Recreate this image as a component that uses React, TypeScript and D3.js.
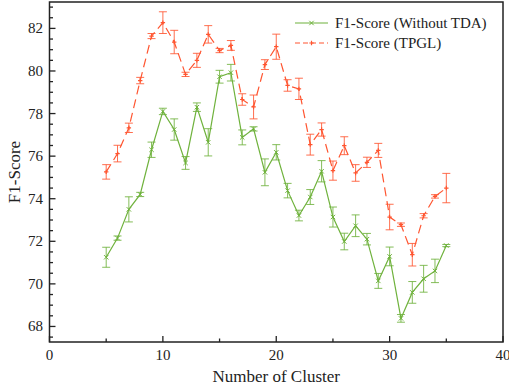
import * as d3 from "d3";

const clusters = [5, 6, 7, 8, 9, 10, 11, 12, 13, 14, 15, 16, 17, 18, 19, 20, 21, 22, 23, 24, 25, 26, 27, 28, 29, 30, 31, 32, 33, 34, 35];

const withoutTda = [71.25, 72.15, 73.5, 74.2, 76.3, 78.1, 77.25, 75.68, 78.3, 76.65, 79.73, 79.92, 76.88, 77.28, 75.24, 76.18, 74.38, 73.21, 74.08, 75.29, 73.14, 71.99, 72.73, 72.1, 70.14, 71.29, 68.38, 69.6, 70.24, 70.61, 71.8];
const withoutTdaErr = [0.47, 0.1, 0.59, 0.1, 0.36, 0.15, 0.5, 0.3, 0.2, 0.64, 0.3, 0.39, 0.35, 0.1, 0.63, 0.36, 0.34, 0.25, 0.35, 0.5, 0.47, 0.39, 0.51, 0.27, 0.35, 0.44, 0.18, 0.51, 0.63, 0.55, 0.05];

const tpgl = [75.26, 76.12, 77.33, 79.55, 81.64, 82.27, 81.36, 79.84, 80.5, 81.72, 80.96, 81.2, 78.66, 78.31, 80.3, 81.14, 79.32, 79.16, 76.54, 77.25, 75.32, 76.49, 75.21, 75.71, 76.27, 73.14, 72.78, 71.37, 73.2, 74.11, 74.5];
const tpglErr = [0.34, 0.39, 0.22, 0.15, 0.12, 0.51, 0.55, 0.1, 0.33, 0.41, 0.1, 0.23, 0.27, 0.56, 0.23, 0.59, 0.27, 0.5, 0.49, 0.31, 0.45, 0.42, 0.39, 0.24, 0.33, 0.6, 0.08, 0.53, 0.1, 0.08, 0.69];

const xMajor = [0, 10, 20, 30, 40];
const xMinor = [5, 15, 25, 35];
const yMajor = [68, 70, 72, 74, 76, 78, 80, 82];

const GREEN = "#6fb23c";
const RED = "#ff5530";
const FONT = "Times New Roman, Liberation Serif, serif";

export default function App() {
  const width = 509;
  const height = 388;
  const left = 49.5;
  const right = 503;
  const top = 2;
  const bottom = 342;

  const x = d3.scaleLinear().domain([0, 40]).range([left, right]);
  const y = d3.scaleLinear().domain([67.27, 83.24]).range([bottom, top]);

  const yMinor = d3.range(67.5, 83.3, 0.5).filter((v) => !yMajor.includes(v));

  const line = d3
    .line<number>()
    .x((_, i) => x(clusters[i]))
    .y((d) => y(d));

  const series = [
    { name: "F1-Score (Without TDA)", vals: withoutTda, err: withoutTdaErr, color: GREEN, dash: undefined, marker: "x" },
    { name: "F1-Score (TPGL)", vals: tpgl, err: tpglErr, color: RED, dash: "9,5", marker: "+" },
  ];

  const marker = (kind: string, cx: number, cy: number, color: string, key: string) => {
    const s = 2.2;
    if (kind === "x") {
      return (
        <path key={key} d={`M${cx - s},${cy - s}L${cx + s},${cy + s}M${cx - s},${cy + s}L${cx + s},${cy - s}`} stroke={color} strokeWidth={1} />
      );
    }
    return (
      <path key={key} d={`M${cx - s},${cy}L${cx + s},${cy}M${cx},${cy - s}L${cx},${cy + s}`} stroke={color} strokeWidth={1.2} />
    );
  };

  return (
    <svg width={width} height={height} style={{ position: "absolute", left: 0, top: 0, background: "#fff", fontFamily: FONT }}>
      {series.map((s) => (
        <g key={s.name}>
          <path d={line(s.vals) ?? ""} fill="none" stroke={s.color} strokeWidth={1.2} strokeDasharray={s.dash} />
          {s.vals.map((v, i) => {
            const cx = x(clusters[i]);
            const y0 = y(v - s.err[i]);
            const y1 = y(v + s.err[i]);
            return (
              <g key={i} stroke={s.color} strokeOpacity={0.85} fill="none" strokeWidth={1}>
                <line x1={cx} x2={cx} y1={y0} y2={y1} />
                <line x1={cx - 4} x2={cx + 4} y1={y0} y2={y0} />
                <line x1={cx - 4} x2={cx + 4} y1={y1} y2={y1} />
              </g>
            );
          })}
          {s.vals.map((v, i) => marker(s.marker, x(clusters[i]), y(v), s.color, `m${i}`))}
        </g>
      ))}

      {/* frame */}
      <rect x={left} y={top} width={right - left} height={bottom - top} fill="none" stroke="#222" strokeWidth={1.5} />

      {/* x ticks */}
      {xMajor.map((t) => (
        <g key={`xm${t}`}>
          <line x1={x(t)} x2={x(t)} y1={bottom} y2={bottom - 6} stroke="#222" strokeWidth={1.3} />
          <text x={x(t)} y={360} textAnchor="middle" fontSize={15} fill="#222">
            {t}
          </text>
        </g>
      ))}
      {xMinor.map((t) => (
        <line key={`xn${t}`} x1={x(t)} x2={x(t)} y1={bottom} y2={bottom - 3.5} stroke="#222" strokeWidth={1.3} />
      ))}

      {/* y ticks */}
      {yMajor.map((t) => (
        <g key={`ym${t}`}>
          <line x1={left} x2={left + 6} y1={y(t)} y2={y(t)} stroke="#222" strokeWidth={1.3} />
          <text x={43} y={y(t) + 5} textAnchor="end" fontSize={15} fill="#222">
            {t}
          </text>
        </g>
      ))}
      {yMinor.map((t) => (
        <line key={`yn${t}`} x1={left} x2={left + 3.5} y1={y(t)} y2={y(t)} stroke="#222" strokeWidth={1.3} />
      ))}

      {/* axis titles */}
      <text x={(left + right) / 2} y={382} textAnchor="middle" fontSize={17} fill="#222">
        Number of Cluster
      </text>
      <text transform={`translate(20,${(top + bottom) / 2}) rotate(-90)`} textAnchor="middle" fontSize={17} fill="#222">
        F1-Score
      </text>

      {/* legend */}
      {series.map((s, i) => {
        const ly = 23 + i * 20;
        return (
          <g key={`lg${i}`}>
            <line x1={295} x2={328} y1={ly} y2={ly} stroke={s.color} strokeWidth={1.2} strokeDasharray={s.dash ? "5,3" : undefined} />
            {marker(s.marker, 311.5, ly, s.color, `lm${i}`)}
            <text x={335} y={ly + 5} fontSize={15} fill="#222">
              {s.name}
            </text>
          </g>
        );
      })}
    </svg>
  );
}
